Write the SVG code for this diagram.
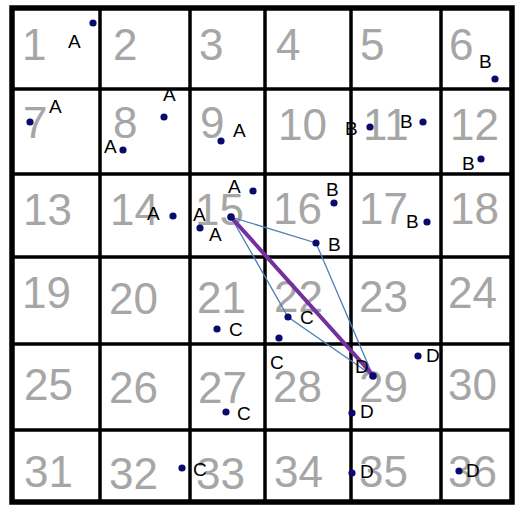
<svg xmlns="http://www.w3.org/2000/svg" width="518" height="506" viewBox="0 0 518 506">
<style>
.num{font-family:"Liberation Sans",Arial,sans-serif;font-size:44px;fill:#a6a6a6}
.lbl{font-family:"Liberation Sans",Arial,sans-serif;font-size:19px;fill:#000}
.dot{fill:#0a0a6e}
.grid{stroke:#000;stroke-width:3.5;fill:none}
.border{stroke:#000;stroke-width:5.5;fill:none}
.thin{stroke:#4f7fb5;stroke-width:1.3;fill:none}
.main{stroke:#7530a0;stroke-width:4;fill:none;stroke-linecap:round}
</style>
<rect width="518" height="506" fill="#fff"/>
<g id="grid">
<line class="grid" x1="100" y1="8" x2="100" y2="502"/>
<line class="grid" x1="190" y1="8" x2="190" y2="502"/>
<line class="grid" x1="265" y1="8" x2="265" y2="502"/>
<line class="grid" x1="351" y1="8" x2="351" y2="502"/>
<line class="grid" x1="441" y1="8" x2="441" y2="502"/>
<line class="grid" x1="12" y1="89" x2="512" y2="89"/>
<line class="grid" x1="12" y1="174" x2="512" y2="174"/>
<line class="grid" x1="12" y1="257" x2="512" y2="257"/>
<line class="grid" x1="12" y1="344" x2="512" y2="344"/>
<line class="grid" x1="12" y1="430" x2="512" y2="430"/>
<rect class="border" x="12" y="8" width="500" height="494"/>
</g>
<g id="cells">
<text id="c1" class="num" x="22" y="60">1</text>
<text id="c2" class="num" x="113" y="60">2</text>
<text id="c3" class="num" x="199" y="60">3</text>
<text id="c4" class="num" x="276" y="60">4</text>
<text id="c5" class="num" x="360" y="60">5</text>
<text id="c6" class="num" x="449" y="60">6</text>
<text id="c7" class="num" x="23" y="138">7</text>
<text id="c8" class="num" x="113" y="138">8</text>
<text id="c9" class="num" x="200" y="138">9</text>
<text id="c10" class="num" x="278" y="140">10</text>
<text id="c11" class="num" x="363" y="140">11</text>
<text id="c12" class="num" x="450" y="140">12</text>
<text id="c13" class="num" x="23" y="225">13</text>
<text id="c14" class="num" x="110" y="225">14</text>
<text id="c15" class="num" x="195" y="225">15</text>
<text id="c16" class="num" x="273" y="224">16</text>
<text id="c17" class="num" x="359" y="224">17</text>
<text id="c18" class="num" x="450" y="224">18</text>
<text id="c19" class="num" x="22" y="308">19</text>
<text id="c20" class="num" x="109" y="314">20</text>
<text id="c21" class="num" x="197" y="313">21</text>
<text id="c22" class="num" x="274" y="312">22</text>
<text id="c23" class="num" x="359" y="312">23</text>
<text id="c24" class="num" x="448" y="308">24</text>
<text id="c25" class="num" x="24" y="400">25</text>
<text id="c26" class="num" x="109" y="403">26</text>
<text id="c27" class="num" x="198" y="403">27</text>
<text id="c28" class="num" x="273" y="402">28</text>
<text id="c29" class="num" x="359" y="402">29</text>
<text id="c30" class="num" x="448" y="400">30</text>
<text id="c31" class="num" x="24" y="487">31</text>
<text id="c32" class="num" x="109" y="489">32</text>
<text id="c33" class="num" x="196" y="489">33</text>
<text id="c34" class="num" x="274" y="487">34</text>
<text id="c35" class="num" x="359" y="487">35</text>
<text id="c36" class="num" x="448" y="487">36</text>
</g>
<g id="connectors">
<polygon class="thin" points="231,217 316,243 373,376 288,317"/>
<line class="main" x1="231" y1="217" x2="371" y2="373"/>
</g>
<g id="points">
<g id="pA1"><circle class="dot" cx="93" cy="23" r="3.6"/><text class="lbl" x="68" y="48">A</text></g>
<g id="pA2"><circle class="dot" cx="30" cy="122" r="3.6"/><text class="lbl" x="49" y="113">A</text></g>
<g id="pA3"><circle class="dot" cx="123" cy="150" r="3.6"/><text class="lbl" x="104" y="153">A</text></g>
<g id="pA4"><circle class="dot" cx="164" cy="117" r="3.6"/><text class="lbl" x="163" y="101">A</text></g>
<g id="pA5"><circle class="dot" cx="221" cy="141" r="3.6"/><text class="lbl" x="233" y="137">A</text></g>
<g id="pA6"><circle class="dot" cx="173" cy="216" r="3.6"/><text class="lbl" x="147" y="220">A</text></g>
<g id="pA7"><circle class="dot" cx="200" cy="228" r="3.6"/><text class="lbl" x="193" y="221">A</text></g>
<g id="pA8"><circle class="dot" cx="231" cy="217" r="3.8"/><text class="lbl" x="209" y="241">A</text></g>
<g id="pA9"><circle class="dot" cx="253" cy="191" r="3.6"/><text class="lbl" x="228" y="193">A</text></g>
<g id="pB1"><circle class="dot" cx="495" cy="79" r="3.6"/><text class="lbl" x="479" y="68">B</text></g>
<g id="pB2"><circle class="dot" cx="370" cy="127" r="3.6"/><text class="lbl" x="345" y="135">B</text></g>
<g id="pB3"><circle class="dot" cx="423" cy="122" r="3.6"/><text class="lbl" x="400" y="128">B</text></g>
<g id="pB4"><circle class="dot" cx="481" cy="159" r="3.6"/><text class="lbl" x="462" y="170">B</text></g>
<g id="pB5"><circle class="dot" cx="334" cy="203" r="3.6"/><text class="lbl" x="326" y="196">B</text></g>
<g id="pB6"><circle class="dot" cx="316" cy="243" r="3.6"/><text class="lbl" x="328" y="251">B</text></g>
<g id="pB7"><circle class="dot" cx="427" cy="222" r="3.6"/><text class="lbl" x="406" y="228">B</text></g>
<g id="pC1"><circle class="dot" cx="217" cy="329" r="3.6"/><text class="lbl" x="229" y="336">C</text></g>
<g id="pC2"><circle class="dot" cx="288" cy="317" r="3.6"/><text class="lbl" x="300" y="324">C</text></g>
<g id="pC3"><circle class="dot" cx="279" cy="338" r="3.6"/><text class="lbl" x="270" y="369">C</text></g>
<g id="pC4"><circle class="dot" cx="226" cy="412" r="3.6"/><text class="lbl" x="237" y="420">C</text></g>
<g id="pC5"><circle class="dot" cx="182" cy="468" r="3.6"/><text class="lbl" x="193" y="476">C</text></g>
<g id="pD1"><circle class="dot" cx="373" cy="376" r="3.8"/><text class="lbl" x="355" y="373">D</text></g>
<g id="pD2"><circle class="dot" cx="418" cy="356" r="3.6"/><text class="lbl" x="426" y="362">D</text></g>
<g id="pD3"><circle class="dot" cx="352" cy="413" r="3.6"/><text class="lbl" x="360" y="418">D</text></g>
<g id="pD4"><circle class="dot" cx="352" cy="473" r="3.6"/><text class="lbl" x="360" y="478">D</text></g>
<g id="pD5"><circle class="dot" cx="459" cy="471" r="3.6"/><text class="lbl" x="466" y="477">D</text></g>
</g>
</svg>
